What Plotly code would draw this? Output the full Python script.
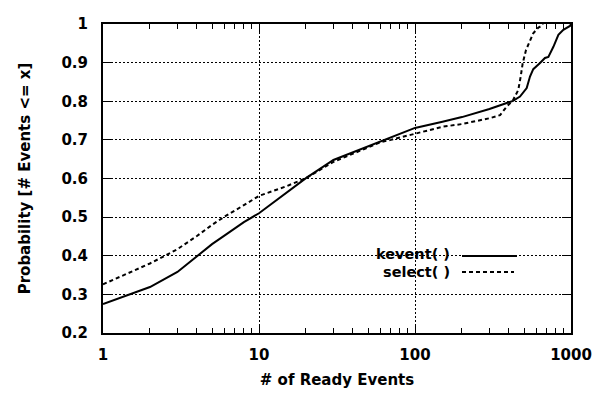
import plotly.graph_objects as go

# ---- data ----
kevent_x = [1, 2, 3, 4, 5, 6, 8, 10, 20, 30, 50, 70, 100, 150, 200, 300, 400, 425, 471,
            520, 546, 573, 633, 681, 716, 771, 830, 893, 985, 1000]
kevent_y = [0.275, 0.319, 0.358, 0.398, 0.43, 0.452, 0.487, 0.51, 0.601, 0.648, 0.683, 0.705,
            0.731, 0.747, 0.759, 0.78, 0.798, 0.801, 0.812, 0.834, 0.864, 0.883, 0.899,
            0.912, 0.915, 0.941, 0.972, 0.985, 0.995, 1.0]

select_x = [1, 2, 3, 4, 5, 6, 8, 10, 15, 20, 30, 50, 60, 70, 100, 150, 200, 300, 351, 387,
            425, 459, 476, 490, 515, 546, 573, 618, 649, 660]
select_y = [0.326, 0.38, 0.417, 0.451, 0.48, 0.501, 0.531, 0.555, 0.58, 0.601, 0.643, 0.68,
            0.694, 0.70, 0.716, 0.734, 0.741, 0.756, 0.764, 0.786, 0.803, 0.829, 0.864,
            0.898, 0.933, 0.959, 0.976, 0.991, 0.995, 1.0]

x_ticks = [1, 10, 100, 1000]
x_tick_labels = ["1", "10", "100", "1000"]
y_ticks = [0.2, 0.3, 0.4, 0.5, 0.6, 0.7, 0.8, 0.9, 1.0]
y_tick_labels = ["0.2", "0.3", "0.4", "0.5", "0.6", "0.7", "0.8", "0.9", "1"]
series_names = ["kevent( )", "select( )"]

FONT = "DejaVu Sans"
fsz = 15

fig = go.Figure()
fig.add_trace(go.Scatter(x=kevent_x, y=kevent_y, mode="lines", name=series_names[0],
                         line=dict(color="black", width=2), showlegend=False))
fig.add_trace(go.Scatter(x=select_x, y=select_y, mode="lines", name=series_names[1],
                         line=dict(color="black", width=2, dash="4px,3px"), showlegend=False))

# page body has an 8px default margin: figure drawn at offset (8, 8)
OFF = 8
FW, FH = 600 - OFF, 395 - OFF
# plot area in window pixels: x 103..571, y 24..333
L, R, T, B = 103, 571, 24, 333
W, H = R - L, B - T


def px(xp):
    return (xp - L) / W


def py(yp):
    return (B - yp) / H


shapes = []
# legend white box hiding grid lines
shapes.append(dict(type="rect", xref="paper", yref="paper", x0=px(347), x1=px(528),
                   y0=py(281), y1=py(248), fillcolor="white", line=dict(width=0),
                   layer="between"))
# legend samples
shapes.append(dict(type="line", xref="paper", yref="paper", x0=px(462), x1=px(517),
                   y0=py(256), y1=py(256), line=dict(color="black", width=2)))
shapes.append(dict(type="line", xref="paper", yref="paper", x0=px(462), x1=px(514),
                   y0=py(272), y1=py(272), line=dict(color="black", width=2, dash="4px,3px")))

annotations = [
    dict(text=series_names[0], xref="paper", yref="paper", x=px(451), y=py(263),
         xanchor="right", yanchor="bottom", showarrow=False, borderpad=0,
         font=dict(family=FONT, size=14.5, color="black", weight="bold")),
    dict(text=series_names[1], xref="paper", yref="paper", x=px(451), y=py(263),
         xanchor="right", yanchor="top", showarrow=False, borderpad=0,
         font=dict(family=FONT, size=14.5, color="black", weight="bold")),
]

fig.update_layout(
    width=FW, height=FH,
    margin=dict(l=L - OFF, r=FW - (R - OFF), t=T - OFF, b=FH - (B - OFF), autoexpand=False),
    paper_bgcolor="white", plot_bgcolor="white",
    font=dict(family=FONT, size=fsz, color="black", weight="bold"),
    shapes=shapes, annotations=annotations,
    showlegend=False,
)

fig.update_xaxes(
    type="log", range=[0, 3], automargin=False,
    tickvals=x_ticks, ticktext=x_tick_labels,
    ticks="inside", ticklen=9, tickwidth=1, tickcolor="black",
    showline=True, linecolor="black", linewidth=2, mirror="ticks",
    showgrid=True, gridcolor="black", gridwidth=1, griddash="2px,2px",
    minor=dict(tickvals=[2, 3, 4, 5, 6, 7, 8, 9, 20, 30, 40, 50, 60, 70, 80, 90,
                         200, 300, 400, 500, 600, 700, 800, 900],
               ticks="inside", ticklen=5, tickwidth=1, tickcolor="black", showgrid=False),
    ticklabelstandoff=7,
    title=dict(text="# of Ready Events", font=dict(family=FONT, size=fsz, weight="bold"),
               standoff=11),
    zeroline=False,
)
fig.update_yaxes(
    range=[0.2, 1.0], automargin=False,
    tickvals=y_ticks, ticktext=y_tick_labels,
    ticks="inside", ticklen=9, tickwidth=1, tickcolor="black",
    showline=True, linecolor="black", linewidth=2, mirror="ticks",
    showgrid=True, gridcolor="black", gridwidth=1, griddash="2px,2px",
    ticklabelstandoff=10,
    title=dict(text="Probability [# Events <= x]", font=dict(family=FONT, size=fsz, weight="bold"),
               standoff=27),
    zeroline=False,
)

fig.write_html("out.html")
